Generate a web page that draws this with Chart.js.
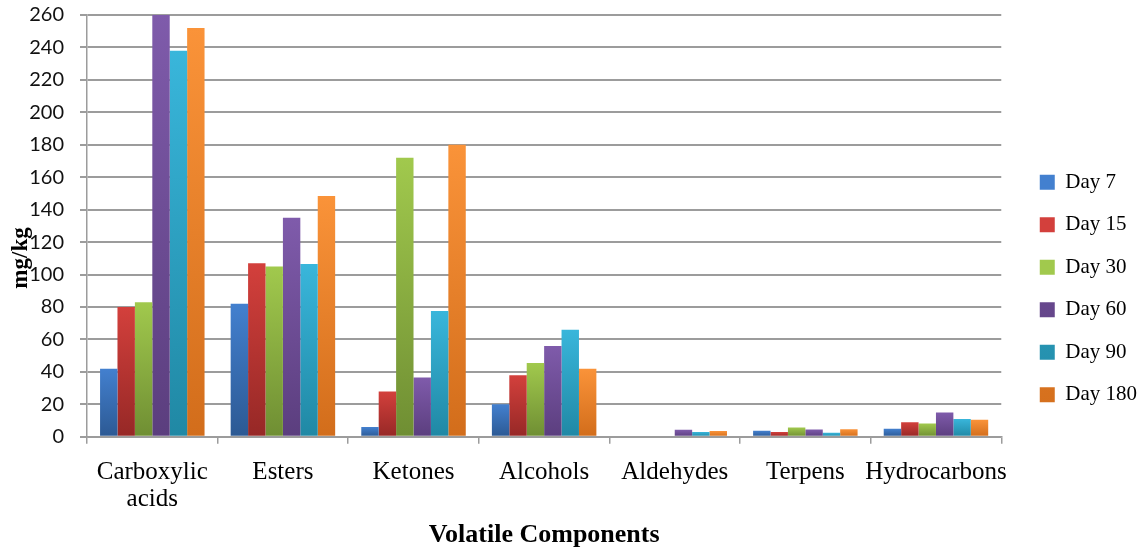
<!DOCTYPE html>
<html>
<head>
<meta charset="utf-8">
<script src="https://cdn.jsdelivr.net/npm/chart.js@4.4.1/dist/chart.umd.min.js"></script>
<style>
  html, body { margin: 0; padding: 0; background: #fff; }
  #wrap { width: 1147px; height: 549px; position: relative; }
</style>
</head>
<body>
<div id="wrap"><canvas id="myChart"></canvas></div>
<script>
// categories
const components = [['Carboxylic', 'acids'], 'Esters', 'Ketones', 'Alcohols', 'Aldehydes', 'Terpens', 'Hydrocarbons'];

// series values (mg/kg)
const day7   = [42, 82, 6, 20, 0, 3.7, 5];
const day15  = [80, 107, 28, 38, 0, 2.9, 9];
const day30  = [83, 105, 172, 45.5, 0, 5.8, 8.2];
const day60  = [260, 135, 36.5, 56, 4.3, 4.5, 15];
const day90  = [238, 106.5, 77.5, 66, 3, 2.5, 11];
const day180 = [252, 148.5, 180, 42, 3.5, 4.7, 10.5];

// y ticks
const yMin = 0, yMax = 260, yStep = 20;

// top/bottom colour of each series
const colours = [
    ['#4380cf', '#2c5993'],
    ['#d3403c', '#962826'],
    ['#a1c94d', '#6f8e33'],
    ['#7f5bab', '#5b3e7e'],
    ['#39b6db', '#2088a4'],
    ['#fa9339', '#d26d1b']
];

// gradient per bar, lighter on top
function barFill(top, bottom) {
    return (ctx) => {
        const chart = ctx.chart;
        const y = chart.scales && chart.scales.y;
        if (ctx.dataIndex === undefined || !y || !chart.chartArea) return top;
        const v = ctx.dataset.data[ctx.dataIndex];
        const y0 = y.getPixelForValue(v);
        const y1 = y.getPixelForValue(0);
        if (!isFinite(y0) || !isFinite(y1) || y1 - y0 < 1) return top;
        const g = chart.ctx.createLinearGradient(0, y0, 0, y1);
        g.addColorStop(0, top);
        g.addColorStop(1, bottom);
        return g;
    };
}

const series = [
    ['Day 7', day7], ['Day 15', day15], ['Day 30', day30],
    ['Day 60', day60], ['Day 90', day90], ['Day 180', day180]
];

const datasets = series.map((s, i) => ({
    label: s[0],
    data: s[1],
    backgroundColor: barFill(colours[i][0], colours[i][1]),
    borderWidth: 0,
    barPercentage: 1,
    categoryPercentage: 0.8
}));

// y axis title "mg/kg" drawn over the tick column like the original
const yTitle = {
    id: 'yTitle',
    afterDraw(chart) {
        const c = chart.ctx;
        c.save();
        c.translate(21, 258);
        c.rotate(-Math.PI / 2);
        c.font = 'bold 23px "Liberation Serif", "Times New Roman", serif';
        c.fillStyle = '#000';
        c.textAlign = 'center';
        c.textBaseline = 'middle';
        c.fillText('mg/kg', 0, 0);
        c.restore();
    }
};

const grey = '#9c9c9c';
const serif = '"Liberation Serif", "Times New Roman", serif';

const config = {
    type: 'bar',
    data: { labels: components, datasets: datasets },
    options: {
        responsive: true,
        maintainAspectRatio: false,
        animation: false,
        layout: { padding: { left: 30, top: 15, right: 0, bottom: 0 } },
        plugins: {
            legend: {
                position: 'right',
                title: { display: true, text: ' ', font: { size: 11 }, padding: 0 },
                labels: {
                    boxWidth: 15,
                    boxHeight: 15,
                    padding: 21.5,
                    color: '#000',
                    font: { family: serif, size: 21 }
                }
            },
            tooltip: { enabled: false }
        },
        scales: {
            x: {
                grid: { offset: true, drawOnChartArea: false, tickLength: 7, color: grey, lineWidth: 1.5 },
                border: { color: grey, width: 1.5 },
                ticks: {
                    color: '#000',
                    padding: 15,
                    maxRotation: 0,
                    autoSkip: false,
                    font: { family: serif, size: 25, lineHeight: 1.08 }
                },
                title: {
                    display: true,
                    text: 'Volatile Components',
                    color: '#000',
                    padding: { top: -8, bottom: -2 },
                    font: { family: serif, size: 26, weight: 'bold' }
                }
            },
            y: {
                min: yMin,
                max: yMax,
                ticks: {
                    stepSize: yStep,
                    color: '#111',
                    padding: 16,
                    font: { family: 'Lato, "Open Sans", sans-serif', size: 20 }
                },
                grid: { color: grey, lineWidth: 2, tickLength: 7 },
                border: { color: grey, width: 1.5 },
                afterFit(scale) {
                    scale.width = 57;
                    scale.paddingTop = 0;
                    scale.paddingBottom = 0;
                }
            },
            // empty spacer between plot and legend
            gap: {
                type: 'linear',
                position: 'right',
                display: true,
                min: 0,
                max: 1,
                grid: { display: false },
                ticks: { display: false },
                border: { display: false },
                afterFit(scale) {
                    scale.width = 17;
                    scale.paddingTop = 0;
                    scale.paddingBottom = 0;
                }
            }
        }
    },
    plugins: [yTitle]
};

const myChart = new Chart(document.getElementById('myChart'), config);
</script>
</body>
</html>
